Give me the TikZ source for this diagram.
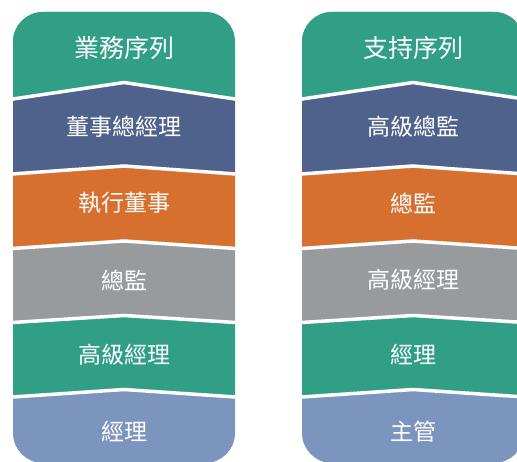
\documentclass[tikz,border=0pt]{standalone}
\usepackage{fontspec}
\newfontfamily\cjk{Noto Sans CJK TC}
\definecolor{cgreen}{HTML}{319F86}
\definecolor{cnavy}{HTML}{4F628C}
\definecolor{corange}{HTML}{D7702F}
\definecolor{cgray}{HTML}{989B9E}
\definecolor{clight}{HTML}{7C95BE}
\tikzset{
  title/.style={text=white, font=\cjk\fontsize{25}{28}\selectfont, inner sep=0pt},
  label/.style={text=white, font=\cjk\fontsize{23}{26}\selectfont, inner sep=0pt},
  sep/.style={draw=white, line width=3.5pt, line join=miter},
}
\newcommand\orgcol[7]{%
  \begin{scope}[xshift=#1]
    \begin{scope}
      \clip[rounded corners=30] (0,12) rectangle (222,463);
      \fill[cgreen]  (0,0) rectangle (222,99) -- cycle;
      \fill[cgreen]  (0,0) -- (222,0) -- (222,99) -- (111,82.5) -- (0,99) -- cycle;
      \fill[cnavy]   (0,99) -- (111,82.5) -- (222,99) -- (222,174) -- (111,166) -- (0,174) -- cycle;
      \fill[corange] (0,174) -- (111,166) -- (222,174) -- (222,248.5) -- (111,241) -- (0,248.5) -- cycle;
      \fill[cgray]   (0,248.5) -- (111,241) -- (222,248.5) -- (222,322.5) -- (111,315.5) -- (0,322.5) -- cycle;
      \fill[cgreen]  (0,322.5) -- (111,315.5) -- (222,322.5) -- (222,397) -- (111,389.5) -- (0,397) -- cycle;
      \fill[clight]  (0,397) -- (111,389.5) -- (222,397) -- (222,470) -- (0,470) -- cycle;
      \draw[sep] (-2,99.3) -- (111,82.5) -- (224,99.3);
      \draw[sep] (-2,174.1) -- (111,166) -- (224,174.1);
      \draw[sep] (-2,248.6) -- (111,241) -- (224,248.6);
      \draw[sep] (-2,322.6) -- (111,315.5) -- (224,322.6);
      \draw[sep] (-2,397.1) -- (111,389.5) -- (224,397.1);
    \end{scope}
    \node[title] (#2-t) at (111,48) {#3};
    \node[label] (#2-a) at (111,127) {#4};
    \node[label] (#2-b) at (111,203) {#5};
    \node[label] (#2-c) at (111,280) {#6};
    \node[label] (#2-d) at (111,355) {#7};
  \end{scope}}
\begin{document}
\begin{tikzpicture}[x=1pt,y=-1pt]
  \useasboundingbox (0,0) rectangle (517,462);
  \fill[white] (0,0) rectangle (517,462);
  \orgcol{13}{L}{業務序列}{董事總經理}{執行董事}{總監}{高級經理}
  \node[label] (L-e) at (124,432) {經理};
  \orgcol{302}{R}{支持序列}{高級總監}{總監}{高級經理}{經理}
  \node[label] (R-e) at (413,432) {主管};
\end{tikzpicture}
\end{document}
